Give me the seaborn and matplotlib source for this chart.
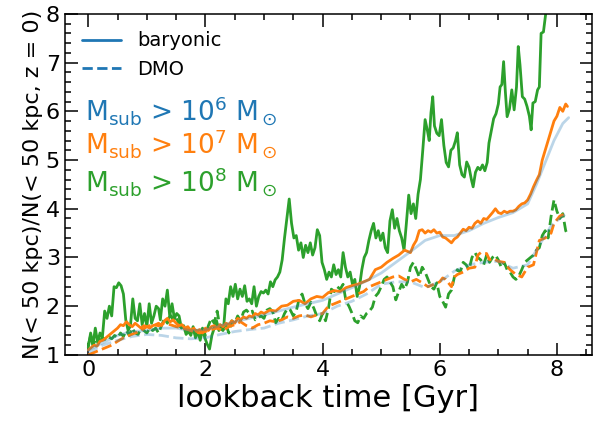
import numpy as np
import pandas as pd
import matplotlib
matplotlib.use("Agg")
import matplotlib.pyplot as plt
import seaborn as sns
from matplotlib.lines import Line2D
from matplotlib.ticker import MultipleLocator

# ---------------- data ----------------
t_g_bar = [0.00,0.04,0.08,0.12,0.16,0.20,0.24,0.28,0.32,0.36,0.40,0.44,0.48,0.52,0.56,0.60,0.64,0.68,0.72,0.76,
           0.80,0.84,0.88,0.92,0.96,1.00,1.04,1.08,1.12,1.16,1.20,1.23,1.27,1.31,1.35,1.39,1.43,1.47,1.51,1.55,
           1.59,1.63,1.67,1.71,1.75,1.79,1.83,1.87,1.91,1.95,1.99,2.03,2.07,2.11,2.15,2.19,2.23,2.27,2.31,2.35,
           2.39,2.43,2.47,2.51,2.55,2.59,2.63,2.67,2.71,2.75,2.79,2.83,2.87,2.91,2.95,2.99,3.03,3.07,3.11,3.15,
           3.19,3.23,3.27,3.31,3.35,3.39,3.43,3.47,3.51,3.55,3.59,3.63,3.67,3.71,3.75,3.79,3.83,3.87,3.91,3.95,
           3.99,4.03,4.07,4.11,4.15,4.19,4.23,4.27,4.31,4.35,4.39,4.43,4.47,4.51,4.55,4.59,4.63,4.67,4.71,4.75,
           4.79,4.83,4.87,4.91,4.95,4.99,5.03,5.07,5.11,5.15,5.19,5.23,5.27,5.31,5.35,5.39,5.43,5.47,5.51,5.55,
           5.59,5.63,5.67,5.71,5.75,5.79,5.82,5.85,5.88,5.91,5.95,5.99,6.03,6.07,6.11,6.15,6.19,6.23,6.27,6.30,
           6.34,6.38,6.42,6.46,6.50,6.54,6.57,6.61,6.65,6.69,6.73,6.77,6.81,6.84,6.88,6.92,6.96,7.00,7.03,7.06,
           7.09,7.12,7.15,7.19,7.23,7.27,7.31,7.34,7.37,7.41,7.45,7.49,7.53,7.56,7.59,7.63,7.67,7.70,7.73,7.77,
           7.81,7.85]
n_g_bar = [1.15,1.45,1.20,1.55,1.25,1.45,1.35,1.90,1.75,2.00,1.80,2.40,2.38,2.48,2.42,2.25,1.72,1.50,1.60,2.15,
           1.75,1.70,2.05,1.62,1.85,1.58,2.05,1.65,1.80,2.00,1.95,1.72,2.15,2.00,2.33,1.80,2.05,1.75,1.85,1.80,
           1.55,1.60,1.42,1.50,1.40,1.58,1.35,1.48,1.30,1.52,1.35,1.22,1.12,1.40,1.55,1.70,1.50,1.60,1.55,2.15,
           2.05,2.40,2.20,2.45,2.15,2.35,2.20,2.42,2.10,2.15,2.05,2.40,2.00,2.20,2.30,2.27,2.33,2.25,2.50,2.40,
           2.54,2.60,2.70,2.95,3.40,3.80,4.20,3.70,3.40,3.45,3.15,3.30,3.00,3.25,3.10,3.30,3.05,3.20,3.57,3.45,
           2.90,2.75,2.55,2.70,2.60,2.85,2.65,2.75,2.60,3.10,2.80,2.60,2.70,2.45,2.55,2.20,2.40,2.75,3.00,3.10,
           3.35,3.55,3.70,3.40,3.55,3.35,3.50,3.20,3.10,3.75,3.98,3.60,3.80,3.55,3.40,3.15,3.70,4.28,3.90,4.10,
           3.80,4.30,4.60,5.20,5.83,5.60,5.40,5.97,6.30,5.70,5.55,5.50,5.83,5.30,4.95,4.86,5.20,5.25,5.40,5.56,
           4.90,4.70,4.65,4.96,4.85,4.60,4.45,4.75,4.85,4.80,4.90,4.78,4.95,5.35,5.60,5.85,5.95,6.15,6.50,6.55,
           7.02,6.40,5.89,6.05,6.44,6.03,6.50,7.33,6.95,6.30,6.25,6.10,5.90,5.62,6.17,6.20,6.44,6.50,7.60,7.63,
           8.02,8.40]

t_g_dmo = [0.00,0.04,0.08,0.12,0.16,0.20,0.25,0.30,0.35,0.40,0.45,0.50,0.55,0.60,0.65,0.70,0.75,0.80,0.85,0.90,
           0.95,1.00,1.05,1.10,1.15,1.20,1.25,1.30,1.35,1.40,1.45,1.50,1.55,1.60,1.65,1.70,1.75,1.80,1.85,1.90,
           1.95,2.00,2.05,2.10,2.15,2.20,2.25,2.30,2.35,2.40,2.45,2.50,2.55,2.60,2.65,2.70,2.75,2.80,2.85,2.90,
           2.95,3.00,3.05,3.10,3.15,3.20,3.25,3.30,3.35,3.40,3.45,3.50,3.55,3.60,3.65,3.70,3.75,3.80,3.85,3.90,
           3.95,4.00,4.05,4.10,4.15,4.20,4.25,4.30,4.35,4.40,4.45,4.50,4.55,4.60,4.65,4.70,4.75,4.80,4.85,4.90,
           4.95,5.00,5.05,5.10,5.15,5.20,5.25,5.30,5.35,5.40,5.45,5.50,5.55,5.60,5.65,5.70,5.75,5.80,5.85,5.90,
           5.95,6.00,6.05,6.10,6.15,6.20,6.25,6.30,6.35,6.40,6.45,6.50,6.55,6.60,6.65,6.70,6.75,6.80,6.85,6.90,
           6.95,7.00,7.05,7.10,7.15,7.20,7.25,7.30,7.35,7.40,7.45,7.50,7.55,7.60,7.65,7.70,7.75,7.80,7.85,7.90,
           7.95,8.00,8.05,8.10,8.15,8.17]
n_g_dmo = [1.20,1.40,1.20,1.30,1.25,1.30,1.35,1.30,1.37,1.33,1.40,1.35,1.45,1.38,1.50,1.40,1.55,1.45,1.42,1.55,
           1.50,1.45,1.55,1.50,1.55,1.45,1.60,1.75,1.65,1.85,1.70,1.80,1.60,1.55,1.50,1.45,1.50,1.40,1.50,1.42,
           1.55,1.40,1.60,1.75,1.65,1.90,1.55,1.50,1.62,1.45,1.70,1.65,1.80,1.70,1.88,1.92,1.85,1.90,1.72,1.76,
           1.80,1.75,1.92,1.95,1.88,1.66,1.75,1.70,1.85,1.95,1.92,1.80,1.90,2.15,2.25,2.05,1.95,2.08,1.96,1.80,
           1.70,1.85,1.70,1.95,2.35,2.30,2.40,2.35,2.45,2.10,2.00,1.86,1.70,1.66,1.80,1.75,1.85,1.90,1.98,2.20,
           2.27,2.40,2.55,2.60,2.50,2.40,2.13,2.30,2.45,2.35,2.50,2.80,2.90,2.75,2.60,2.80,2.70,2.55,2.40,2.35,
           2.48,2.20,2.10,1.98,2.25,2.33,2.60,2.75,2.70,2.90,2.85,2.75,3.00,3.10,3.00,2.95,2.85,3.05,2.90,3.00,
           3.05,2.95,2.80,2.90,2.75,2.70,2.60,2.55,2.62,2.75,2.90,2.95,3.00,3.05,3.15,3.20,3.45,3.55,3.40,3.84,
           4.18,3.95,3.80,3.90,3.55,3.50]

t_o_bar = [0.00,0.05,0.10,0.15,0.20,0.25,0.30,0.35,0.40,0.45,0.50,0.55,0.60,0.65,0.70,0.75,0.80,0.85,0.90,0.95,
           1.00,1.05,1.10,1.15,1.20,1.25,1.30,1.35,1.40,1.45,1.50,1.55,1.60,1.65,1.70,1.75,1.80,1.85,1.90,1.95,
           2.00,2.05,2.10,2.15,2.20,2.25,2.30,2.35,2.40,2.45,2.50,2.55,2.60,2.65,2.70,2.75,2.80,2.85,2.90,2.95,
           3.00,3.10,3.20,3.30,3.40,3.50,3.60,3.70,3.80,3.90,4.00,4.10,4.20,4.30,4.40,4.50,4.60,4.70,4.80,4.90,
           5.00,5.10,5.20,5.30,5.40,5.50,5.55,5.60,5.65,5.70,5.75,5.80,5.85,5.90,5.95,6.00,6.05,6.10,6.15,6.20,
           6.25,6.30,6.35,6.40,6.45,6.50,6.55,6.60,6.65,6.70,6.75,6.80,6.85,6.90,6.95,7.00,7.05,7.10,7.15,7.20,
           7.25,7.30,7.35,7.40,7.45,7.50,7.55,7.60,7.65,7.70,7.75,7.80,7.85,7.90,7.95,8.00,8.05,8.10,8.15,8.18]
n_o_bar = [1.10,1.15,1.20,1.18,1.28,1.30,1.35,1.40,1.45,1.50,1.55,1.62,1.60,1.68,1.62,1.58,1.65,1.60,1.55,1.60,
           1.58,1.55,1.60,1.62,1.65,1.60,1.70,1.75,1.68,1.72,1.65,1.60,1.62,1.55,1.58,1.50,1.55,1.48,1.52,1.45,
           1.55,1.50,1.58,1.60,1.55,1.62,1.58,1.65,1.62,1.70,1.65,1.75,1.72,1.78,1.75,1.80,1.78,1.85,1.82,1.88,
           1.85,1.92,1.90,2.00,2.02,2.10,2.12,2.05,2.15,2.20,2.18,2.28,2.32,2.30,2.38,2.42,2.45,2.50,2.55,2.75,
           2.80,2.90,2.98,3.05,3.15,3.10,3.25,3.35,3.55,3.57,3.50,3.55,3.52,3.57,3.50,3.52,3.42,3.40,3.35,3.30,
           3.38,3.42,3.50,3.58,3.55,3.62,3.60,3.70,3.75,3.70,3.80,3.78,3.85,3.92,4.00,3.92,3.90,3.95,3.92,3.95,
           3.95,3.98,4.05,4.10,4.12,4.18,4.30,4.45,4.58,4.70,5.00,5.20,5.40,5.60,5.80,5.90,6.08,6.00,6.15,6.10]

t_o_dmo = [0.00,0.10,0.20,0.30,0.40,0.50,0.60,0.70,0.80,0.90,1.00,1.10,1.20,1.30,1.40,1.50,1.60,1.70,1.80,1.90,
           2.00,2.10,2.20,2.30,2.40,2.50,2.60,2.70,2.80,2.90,3.00,3.10,3.20,3.30,3.40,3.50,3.60,3.70,3.80,3.90,
           4.00,4.10,4.20,4.30,4.40,4.50,4.60,4.70,4.80,4.90,5.00,5.10,5.20,5.30,5.40,5.50,5.60,5.70,5.80,5.90,
           6.00,6.05,6.10,6.20,6.25,6.30,6.40,6.50,6.60,6.65,6.70,6.80,6.85,6.90,7.00,7.10,7.20,7.30,7.40,7.50,
           7.60,7.70,7.80,7.90,7.95,8.05,8.15]
n_o_dmo = [1.00,1.05,1.10,1.15,1.20,1.28,1.35,1.40,1.45,1.50,1.58,1.62,1.60,1.65,1.62,1.58,1.55,1.52,1.48,1.45,
           1.48,1.52,1.55,1.50,1.58,1.62,1.68,1.60,1.55,1.62,1.65,1.70,1.68,1.72,1.78,1.75,1.80,1.82,1.78,1.82,
           1.85,2.00,2.05,2.10,2.15,2.20,2.25,2.30,2.40,2.45,2.50,2.55,2.60,2.62,2.55,2.50,2.55,2.48,2.40,2.45,
           2.50,2.58,2.55,2.40,2.60,2.65,2.70,2.78,2.80,3.05,3.10,3.08,2.95,2.98,2.92,2.90,2.75,2.65,2.60,2.80,
           2.85,3.35,3.40,3.50,3.70,3.85,3.90]

t_b_bar = [0.00,0.25,0.50,0.75,1.00,1.25,1.50,1.75,2.00,2.25,2.50,2.75,3.00,3.25,3.50,3.75,4.00,4.25,4.50,4.75,
           5.00,5.25,5.50,5.75,6.00,6.25,6.50,6.75,7.00,7.25,7.50,7.65,7.80,7.95,8.10,8.20]
n_b_bar = [1.10,1.25,1.40,1.48,1.50,1.55,1.55,1.50,1.52,1.60,1.68,1.75,1.82,1.90,1.98,2.05,2.12,2.25,2.38,2.52,
           2.68,2.90,3.12,3.35,3.45,3.45,3.55,3.70,3.82,3.92,4.10,4.50,4.95,5.40,5.75,5.87]

t_b_dmo = [0.00,0.25,0.50,0.75,1.00,1.25,1.50,1.75,2.00,2.25,2.50,2.75,3.00,3.25,3.50,3.75,4.00,4.25,4.50,4.75,
           5.00,5.25,5.50,5.75,6.00,6.25,6.50,6.75,7.00,7.25,7.50,7.70,7.90,8.10,8.20]
n_b_dmo = [1.05,1.20,1.30,1.38,1.42,1.40,1.35,1.33,1.35,1.42,1.48,1.52,1.55,1.65,1.72,1.80,1.85,2.00,2.10,2.25,
           2.45,2.50,2.50,2.38,2.50,2.72,2.85,2.90,2.92,2.78,2.85,3.25,3.65,3.85,3.92]

labels = [r"M$_{\rm sub}$ > 10$^6$ M$_\odot$",
          r"M$_{\rm sub}$ > 10$^7$ M$_\odot$",
          r"M$_{\rm sub}$ > 10$^8$ M$_\odot$"]
c_blue, c_orange, c_green = "#1f77b4", "#ff7f0e", "#2ca02c"

# ---------------- plot ----------------
sns.set_style("ticks")
plt.rcParams["font.family"] = ["DejaVu Sans"]
plt.rcParams["mathtext.default"] = "regular"
for k in ["text.color", "axes.labelcolor", "xtick.color", "ytick.color", "axes.edgecolor"]:
    plt.rcParams[k] = "black"

fig = plt.figure(figsize=(6.06, 4.21), dpi=100)
ax = fig.add_axes([0.107, 0.157, 0.870, 0.810])

def draw(t, n, color, ls, alpha=1.0):
    df = pd.DataFrame({"t": t, "n": n})
    sns.lineplot(data=df, x="t", y="n", ax=ax, color=color, linestyle=ls,
                 lw=2, alpha=alpha, estimator=None, sort=False)

draw(t_g_bar, n_g_bar, c_green, "-")
draw(t_g_dmo, n_g_dmo, c_green, "--")
draw(t_o_bar, n_o_bar, c_orange, "-")
draw(t_o_dmo, n_o_dmo, c_orange, "--")
draw(t_b_bar, n_b_bar, c_blue, "-", alpha=0.3)
draw(t_b_dmo, n_b_dmo, c_blue, "--", alpha=0.3)

ax.set_xlim(-0.4, 8.6)
ax.set_ylim(1, 8)
ax.xaxis.set_major_locator(MultipleLocator(2))
ax.xaxis.set_minor_locator(MultipleLocator(0.5))
ax.yaxis.set_major_locator(MultipleLocator(1))
ax.yaxis.set_minor_locator(MultipleLocator(0.2))
ax.tick_params(which="both", direction="in", top=True, right=True, width=1.1,
               color="k", labelcolor="k")
ax.tick_params(which="major", length=9, labelsize=16)
ax.tick_params(which="minor", length=4.5)
for s in ax.spines.values():
    s.set_linewidth(1.1)
    s.set_color("k")

ax.set_xlabel("lookback time [Gyr]", fontsize=22, color="k", labelpad=3)
ax.set_ylabel("N(< 50 kpc)/N(< 50 kpc, z = 0)", fontsize=16, color="k", labelpad=2)

handles = [Line2D([], [], color=c_blue, lw=2, ls="-"),
           Line2D([], [], color=c_blue, lw=2, ls="--")]
leg = ax.legend(handles, ["baryonic", "DMO"], loc="upper left", frameon=False, fontsize=14,
                bbox_to_anchor=(0.0, 1.0))
for txt in leg.get_texts():
    txt.set_color("k")

for lab, col, yy in zip(labels, [c_blue, c_orange, c_green], [0.686, 0.587, 0.478]):
    ax.text(0.038, yy, lab, color=col, fontsize=19, transform=ax.transAxes, va="baseline", ha="left")

fig.savefig("out.png", dpi=100)
